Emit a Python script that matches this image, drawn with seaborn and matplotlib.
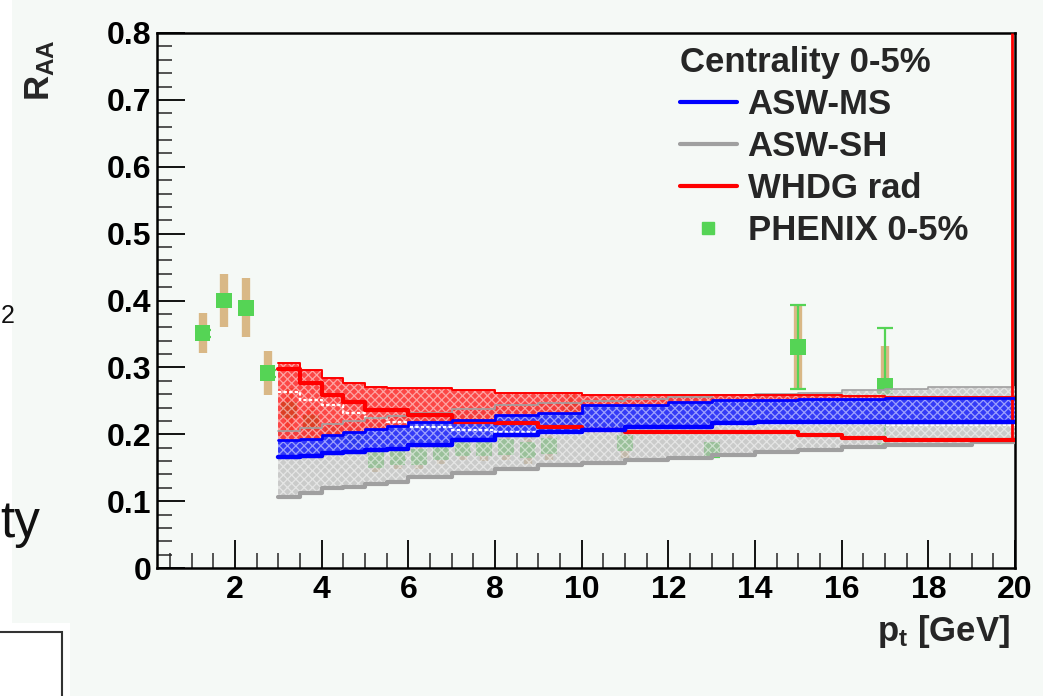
import matplotlib
matplotlib.use("Agg")
import matplotlib.pyplot as plt
from matplotlib.lines import Line2D
from matplotlib.patches import Rectangle
from matplotlib.ticker import MultipleLocator
import pandas as pd
import seaborn as sns

# ---- PHENIX pi0 R_AA, 0-5% centrality ----
pt_data = [1.25, 1.75, 2.25, 2.75, 3.25, 3.75, 4.25, 4.75, 5.25, 5.75, 6.25,
           6.75, 7.25, 7.75, 8.25, 8.75, 9.25, 9.75, 11.0, 13.0, 15.0, 17.0]
raa_data = [0.351, 0.400, 0.389, 0.291, 0.236, 0.217, 0.199, 0.194, 0.161, 0.166, 0.166,
            0.173, 0.179, 0.179, 0.181, 0.176, 0.182, 0.236, 0.187, 0.176, 0.330, 0.272]
stat_err = [0.005, 0.005, 0.005, 0.005, 0.005, 0.005, 0.005, 0.005, 0.005, 0.005, 0.005,
            0.005, 0.005, 0.005, 0.005, 0.006, 0.006, 0.008, 0.008, 0.010, 0.063, 0.087]
sys_err = [0.030, 0.040, 0.044, 0.033, 0.033, 0.022, 0.020, 0.020, 0.018, 0.018, 0.018,
           0.018, 0.018, 0.019, 0.019, 0.020, 0.020, 0.024, 0.022, 0.010, 0.063, 0.060]

# ---- theory bands (step edges) ----
pt_theory = [3.0, 3.5, 4.0, 4.5, 5.0, 5.5, 6.0, 7.0, 8.0, 9.0, 10.0,
             11.0, 12.0, 13.0, 14.0, 15.0, 16.0, 17.0, 18.0, 19.0, 20.0]
# ASW-MS
asw_ms_lo = [0.166, 0.168, 0.172, 0.174, 0.176, 0.178, 0.184, 0.192, 0.199, 0.203, 0.206,
             0.211, 0.211, 0.217, 0.218, 0.218, 0.219, 0.218, 0.218, 0.218, 0.218]
asw_ms_hi = [0.191, 0.193, 0.199, 0.203, 0.208, 0.213, 0.218, 0.222, 0.229, 0.232, 0.244,
             0.244, 0.248, 0.251, 0.251, 0.252, 0.253, 0.254, 0.254, 0.254, 0.254]
# ASW-SH
asw_sh_lo = [0.106, 0.112, 0.120, 0.121, 0.126, 0.128, 0.136, 0.142, 0.148, 0.154, 0.157,
             0.161, 0.164, 0.169, 0.173, 0.176, 0.181, 0.184, 0.184, 0.188, 0.188]
asw_sh_hi = [0.205, 0.210, 0.215, 0.220, 0.225, 0.228, 0.232, 0.238, 0.243, 0.247, 0.250,
             0.252, 0.255, 0.258, 0.260, 0.262, 0.266, 0.268, 0.270, 0.271, 0.271]
# WHDG rad
whdg_hi = [0.306, 0.296, 0.284, 0.276, 0.271, 0.269, 0.269, 0.266, 0.262, 0.262, 0.259,
           0.259, 0.259, 0.259, 0.259, 0.258, 0.257, 0.256, 0.256, 0.256, 0.256]
whdg_fill_lo = [0.190, 0.192, 0.198, 0.202, 0.207, 0.212, 0.217, 0.221, 0.228, 0.231, 0.243,
                0.243, 0.247, 0.250, 0.250, 0.251, 0.252, 0.253, 0.253, 0.253, 0.253]
whdg_lo = [0.297, 0.276, 0.259, 0.248, 0.236, 0.236, 0.229, 0.218, 0.217, 0.211, 0.207,
           0.203, 0.203, 0.203, 0.203, 0.199, 0.194, 0.192, 0.192, 0.191, 0.191]
edge_white = [0.263, 0.251, 0.244, 0.232, 0.224, 0.218, 0.211, 0.206, 0.203, 0.200, 0.204,
              0.209, 0.209, 0.214, 0.215, 0.215, 0.215, 0.214, 0.214, 0.214, 0.214]

x_ticks = [2, 4, 6, 8, 10, 12, 14, 16, 18, 20]
y_ticks = [0, 0.1, 0.2, 0.3, 0.4, 0.5, 0.6, 0.7, 0.8]
y_tick_labels = ["0", "0.1", "0.2", "0.3", "0.4", "0.5", "0.6", "0.7", "0.8"]

BG = "#f5f9f6"
C_BLUE = "#0000ff"
C_GRAY = "#a0a0a0"
C_RED = "#ff0000"
C_GREEN = "#55d455"
C_TAN = "#d9b886"

sns.set_theme(style="ticks")
plt.rcParams["font.family"] = ["Liberation Sans", "DejaVu Sans"]
plt.rcParams["font.weight"] = "bold"
plt.rcParams["mathtext.fontset"] = "custom"
plt.rcParams["mathtext.bf"] = "Liberation Sans:bold"
plt.rcParams["mathtext.rm"] = "Liberation Sans:bold"
plt.rcParams["mathtext.it"] = "Liberation Sans:bold"
plt.rcParams["hatch.linewidth"] = 0.9

fig = plt.figure(figsize=(10.43, 6.96), dpi=100, facecolor=BG)
ax = fig.add_axes([157 / 1043, 1 - 568 / 696, (1015 - 157) / 1043, (568 - 33) / 696])
ax.set_facecolor(BG)

df = pd.DataFrame({"pt": pt_data, "raa": raa_data, "stat": stat_err, "sys": sys_err})
band = pd.DataFrame({"pt": pt_theory, "ms_lo": asw_ms_lo, "ms_hi": asw_ms_hi,
                     "sh_lo": asw_sh_lo, "sh_hi": asw_sh_hi, "rad_hi": whdg_hi,
                     "rad_fill_lo": whdg_fill_lo, "rad_lo": whdg_lo, "white": edge_white})

# systematic (tan boxes) and statistical (green bars)
ax.vlines(df["pt"], df["raa"] - df["sys"], df["raa"] + df["sys"],
          color=C_TAN, lw=6.0, zorder=2)
ax.errorbar(df["pt"], df["raa"], yerr=df["stat"], fmt="none", ecolor=C_GREEN,
            elinewidth=1.6, capsize=6, capthick=1.6, zorder=2.2)
sns.scatterplot(data=df, x="pt", y="raa", marker="s", s=130, color=C_GREEN,
                edgecolor="none", linewidth=0, ax=ax, zorder=2.5, legend=False)

# theory bands: dotted pattern fills
def pattern_band(lo, hi, color, alpha, z):
    ax.fill_between(band["pt"], band[lo], band[hi], step="post",
                    facecolor=color, alpha=alpha, edgecolor="none", lw=0, zorder=z)
    ax.fill_between(band["pt"], band[lo], band[hi], step="post",
                    facecolor="none", edgecolor="white", hatch="xxxx", lw=0,
                    alpha=0.5, zorder=z + 0.05)

pattern_band("sh_lo", "sh_hi", "#b8b8b8", 0.70, 3.0)
pattern_band("rad_fill_lo", "rad_hi", "#ff1a1a", 0.80, 3.2)
pattern_band("ms_lo", "ms_hi", "#1a22ff", 0.85, 3.4)

ax.step(band["pt"], band["white"], where="post", color="white", lw=1.6, ls=(0, (1.5, 1)), zorder=3.6)
ax.step(band["pt"], band["sh_lo"], where="post", color=C_GRAY, lw=3.0, zorder=3.7)
ax.step(band["pt"], band["sh_hi"], where="post", color=C_GRAY, lw=1.2, zorder=3.7)
ax.step(band["pt"], band["rad_hi"], where="post", color=C_RED, lw=1.4, zorder=3.8)
ax.step(band["pt"], band["rad_lo"], where="post", color=C_RED, lw=3.0, zorder=3.8)
ax.step(band["pt"], band["ms_lo"], where="post", color=C_BLUE, lw=3.2, zorder=3.9)
ax.step(band["pt"], band["ms_hi"], where="post", color=C_BLUE, lw=2.0, zorder=3.9)
ax.vlines(19.93, whdg_lo[-1], 0.8, color=C_RED, lw=2.0, zorder=3.8)

# axes
ax.set_xlim(0.2, 20)
ax.set_ylim(0, 0.8)
ax.set_xticks(x_ticks)
ax.set_yticks(y_ticks)
ax.set_xticklabels([str(t) for t in x_ticks])
ax.set_yticklabels(y_tick_labels)
ax.xaxis.set_minor_locator(MultipleLocator(0.5))
ax.yaxis.set_minor_locator(MultipleLocator(0.02))
ax.tick_params(axis="both", which="major", direction="in", length=20, width=1.3,
               labelsize=23, colors="black", top=False, right=False)
ax.tick_params(axis="both", which="minor", direction="in", length=11, width=1.1,
               top=False, right=False)
ax.tick_params(axis="x", which="major", pad=5)
ax.tick_params(axis="y", which="major", pad=4)
for lab in ax.get_xticklabels() + ax.get_yticklabels():
    lab.set_fontweight("bold")
for side in ["left", "right", "top", "bottom"]:
    ax.spines[side].set_visible(True)
    ax.spines[side].set_linewidth(1.8)
    ax.spines[side].set_color("black")
ax.set_xlabel("")
ax.set_ylabel("")

fig.text(40 / 1043, 1 - 70 / 696, r"$\mathbf{R_{AA}}$", rotation=90, fontsize=25,
         ha="center", va="center")
fig.text(1010 / 1043, 1 - 632 / 696, r"$\mathbf{p_{t}}$ [GeV]", fontsize=25,
         ha="right", va="center", fontweight="bold")

# legend
handles = [Line2D([], [], color=C_BLUE, lw=3),
           Line2D([], [], color=C_GRAY, lw=3),
           Line2D([], [], color=C_RED, lw=3),
           Line2D([], [], color=C_GREEN, marker="s", ls="none", markersize=9)]
labels = ["ASW-MS", "ASW-SH", "WHDG rad", "PHENIX 0-5%"]
leg = ax.legend(handles, labels, title="Centrality 0-5%", loc="upper left",
                bbox_to_anchor=(0.577, 1.027), frameon=False, fontsize=25,
                title_fontproperties={"size": 25, "weight": "bold"},
                handlelength=1.65, handletextpad=0.3, labelspacing=0.26,
                borderpad=0.3, alignment="left")
for t in leg.get_texts():
    t.set_fontweight("bold")

# slide fragments at the left edge
fig.patches.append(Rectangle((0, 1 - 623 / 696), 12 / 1043, 623 / 696,
                             transform=fig.transFigure, facecolor="white",
                             edgecolor="none", zorder=0))
fig.patches.append(Rectangle((0, 0), 70 / 1043, 73 / 696,
                             transform=fig.transFigure, facecolor="white",
                             edgecolor="none", zorder=0))
fig.patches.append(Rectangle((-5 / 1043, -10 / 696), 67 / 1043, 74 / 696,
                             transform=fig.transFigure, facecolor="white",
                             edgecolor="#333333", lw=1.5, zorder=1))
fig.text(0, 1 - 537 / 696, "ty", fontsize=37, fontweight="normal",
         ha="left", va="baseline", color="#111111")
fig.text(1 / 1043, 1 - 316 / 696, "2", fontsize=18, fontweight="normal",
         ha="left", va="center", color="#111111")

fig.savefig("out.png", dpi=100, facecolor=BG)
